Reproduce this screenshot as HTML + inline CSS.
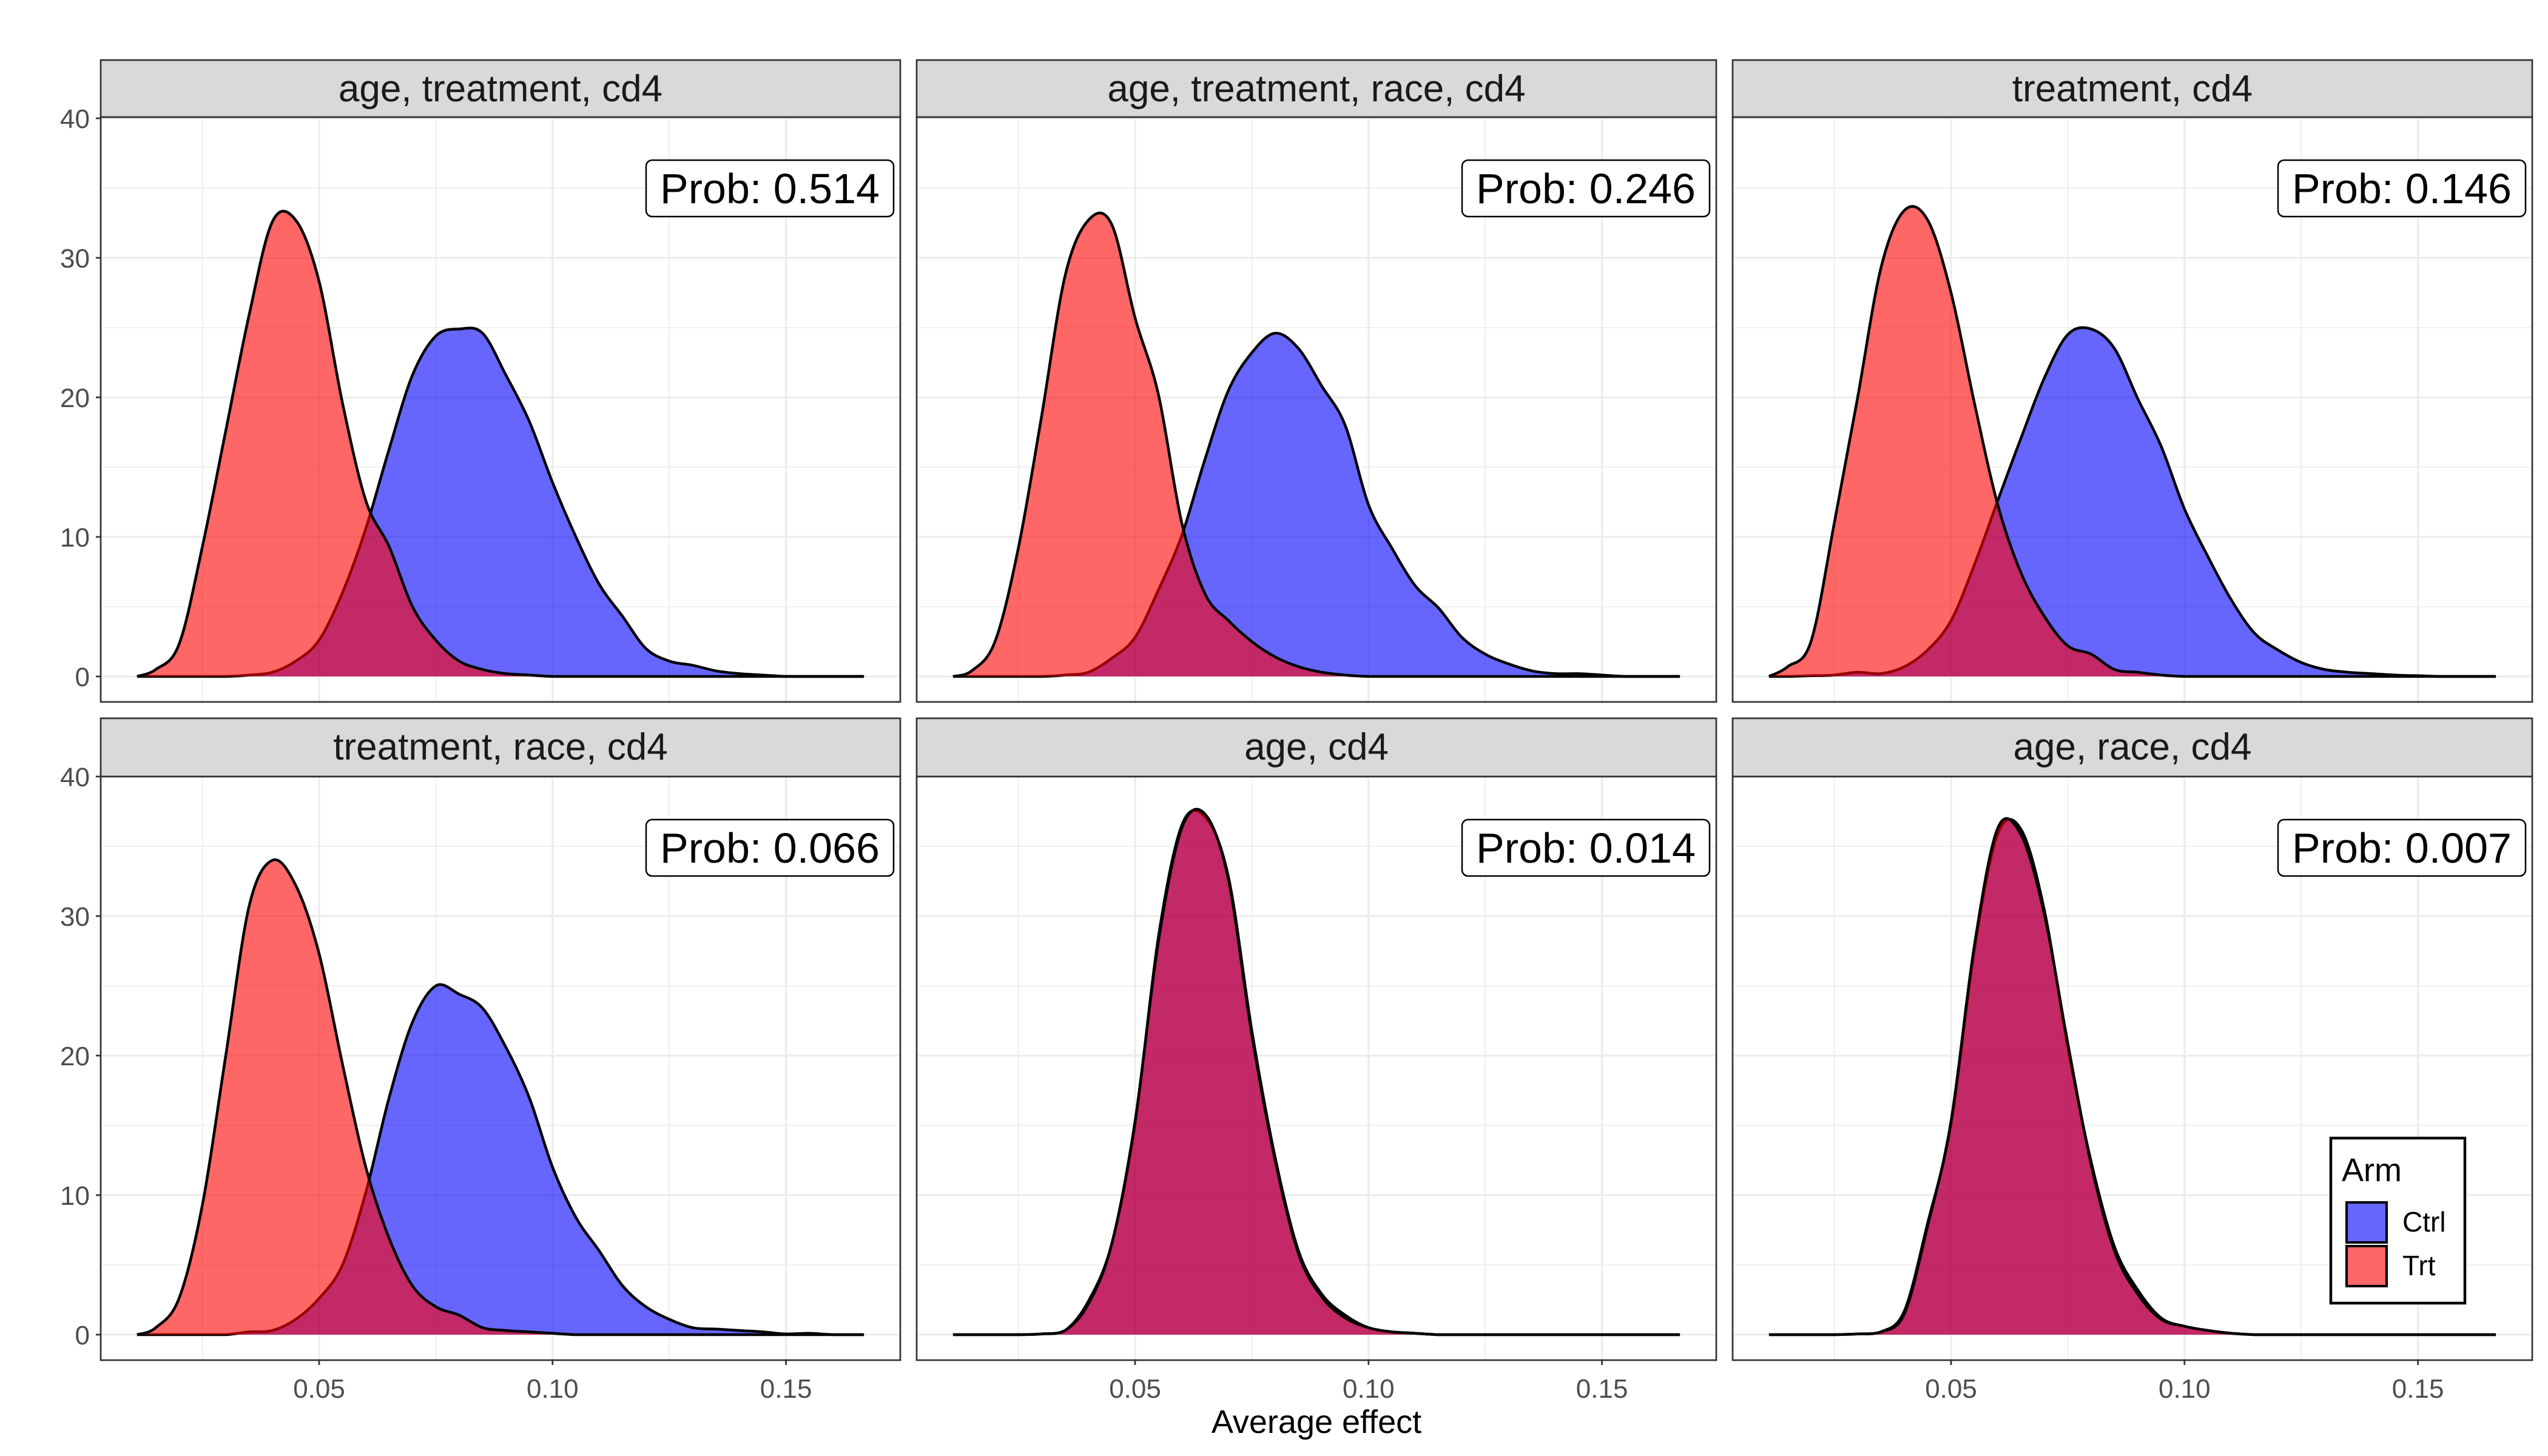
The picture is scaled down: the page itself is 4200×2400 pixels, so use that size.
<!DOCTYPE html>
<html><head><meta charset="utf-8"><style>
html,body{margin:0;padding:0;background:#fff;}
svg{display:block;font-family:"Liberation Sans",Arial,sans-serif;}
</style></head><body>
<svg id="chart" width="4200" height="2400" viewBox="0 0 4200 2400">
<rect width="4200" height="2400" fill="#fff"/>
</svg>
<script>
const xGrid = [0.011,0.015,0.020,0.025,0.030,0.035,0.040,0.045,0.050,0.055,0.060,0.065,0.070,0.075,0.080,0.085,0.090,0.095,0.100,0.105,0.110,0.115,0.120,0.125,0.130,0.135,0.140,0.145,0.150,0.155,0.160,0.1667];
const panelTitles = ["age, treatment, cd4","age, treatment, race, cd4","treatment, cd4","treatment, race, cd4","age, cd4","age, race, cd4"];
const probLabels = ["Prob: 0.514","Prob: 0.246","Prob: 0.146","Prob: 0.066","Prob: 0.014","Prob: 0.007"];
const ctrl1 = [0,0,0,0,0,0.1,0.3,1.1,2.6,6,10.6,16.3,21.6,24.4,24.9,24.6,21.6,18.3,13.9,10,6.6,4.3,2,1.1,0.8,0.4,0.2,0.1,0,0,0,0];
const trt1  = [0,0.5,2.3,9.3,17.6,25.9,32.6,32.7,28.3,19.6,12.6,9.3,5,2.6,1.1,0.5,0.2,0.1,0,0,0,0,0,0,0,0,0,0,0,0,0,0];
const ctrl2 = [0,0,0,0,0,0.1,0.3,1.3,2.8,6.2,10.1,15.6,20.5,23.2,24.6,23.5,20.8,18,12.3,9.2,6.5,4.9,2.8,1.6,0.9,0.4,0.2,0.2,0.1,0,0,0];
const trt2  = [0,0.4,2.5,9.2,18.7,28.7,32.7,32.4,25.7,20.2,11,5.9,4,2.5,1.4,0.7,0.3,0.1,0,0,0,0,0,0,0,0,0,0,0,0,0,0];
const ctrl3 = [0,0,0.05,0.1,0.3,0.2,0.7,1.9,4,8,12.6,17.1,21.4,24.5,24.9,23.5,19.9,16.5,12,8.6,5.5,3.1,1.9,1,0.5,0.3,0.2,0.1,0.05,0,0,0];
const trt3  = [0,0.7,2.5,11,20,29.3,33.4,32.7,27.5,19.6,12.3,7.4,4.3,2.2,1.6,0.5,0.3,0.1,0,0,0,0,0,0,0,0,0,0,0,0,0,0];
const ctrl4 = [0,0,0,0,0,0.2,0.3,1.1,2.6,5,10.2,17,22.4,25,24.4,23.4,20.6,17,12,8.4,6,3.5,2,1.1,0.5,0.4,0.3,0.2,0.05,0.1,0,0];
const trt4  = [0,0.5,2.6,9.3,20,30.7,34,32.2,27.3,19.4,12,6.9,3.5,2,1.4,0.5,0.3,0.2,0.1,0,0,0,0,0,0,0,0,0,0,0,0,0];
const ctrl5 = [0,0,0,0,0.05,0.3,2.4,6.5,15.1,28.5,36.5,37.1,32.8,21.8,12.7,6,2.9,1.4,0.5,0.2,0.1,0,0,0,0,0,0,0,0,0,0,0];
const trt5  = [0,0,0,0,0.05,0.3,2.2,6.5,15.3,28.2,36.3,37.3,32.6,21.5,12.5,5.8,2.7,1.2,0.5,0.2,0.1,0,0,0,0,0,0,0,0,0,0,0];
const ctrl6 = [0,0,0,0,0.05,0.2,1.7,8,15.1,27.6,35.9,36.2,30.4,20.6,12.4,6.3,3.2,1.2,0.6,0.3,0.1,0,0,0,0,0,0,0,0,0,0,0];
const trt6  = [0,0,0,0,0.05,0.2,1.5,7.8,15.3,27.9,36.3,35.8,30.1,20.9,12.2,6,2.9,1.1,0.6,0.3,0.1,0,0,0,0,0,0,0,0,0,0,0];
const yTicks = [0,10,20,30,40];
const yTickLabels = ["0","10","20","30","40"];
const xTicks = [0.05,0.10,0.15];
const xTickLabels = ["0.05","0.10","0.15"];
const ctrlSeries = [ctrl1,ctrl2,ctrl3,ctrl4,ctrl5,ctrl6];
const trtSeries = [trt1,trt2,trt3,trt4,trt5,trt6];

const NS = "http://www.w3.org/2000/svg";
const svg = document.getElementById("chart");
function mk(tag, attrs, parent){const e=document.createElementNS(NS,tag);for(const k in attrs)e.setAttribute(k,attrs[k]);(parent||svg).appendChild(e);return e;}
const colLeft=[166,1511,2856], PW=1318;
const rowStrip=[99,1184], rowTop=[193,1280], rowBot=[1157,2242];
function xs(left,v){return left+(v-0.00322)*7696;}
function ys(bot,v){return bot-42-v*23;}
function pathFor(left,bot,vals){
  const p=xGrid.map((x,i)=>[xs(left,x),ys(bot,vals[i])]);
  let d="M"+p[0][0].toFixed(1)+","+ys(bot,0).toFixed(1)+" L"+p[0][0].toFixed(1)+","+p[0][1].toFixed(1);
  for(let i=0;i<p.length-1;i++){
    const p0=p[Math.max(0,i-1)],p1=p[i],p2=p[i+1],p3=p[Math.min(p.length-1,i+2)];
    const c1=[p1[0]+(p2[0]-p0[0])/6,Math.min(ys(bot,0),p1[1]+(p2[1]-p0[1])/6)];
    const c2=[p2[0]-(p3[0]-p1[0])/6,Math.min(ys(bot,0),p2[1]-(p3[1]-p1[1])/6)];
    d+=" C"+c1[0].toFixed(1)+","+c1[1].toFixed(1)+" "+c2[0].toFixed(1)+","+c2[1].toFixed(1)+" "+p2[0].toFixed(1)+","+p2[1].toFixed(1);
  }
  return {d:d+" Z", line:d.replace(/^M[^L]*L/,"M")};
}
for(let k=0;k<6;k++){
  const r=Math.floor(k/3), c=k%3, left=colLeft[c], top=rowTop[r], bot=rowBot[r];
  const g=mk("g",{});
  
  
  [5,15,25,35].forEach(v=>mk("line",{x1:left,x2:left+PW,y1:ys(bot,v),y2:ys(bot,v),stroke:"#ebebeb","stroke-width":1.5},g));
  [0.025,0.075,0.125].forEach(v=>mk("line",{x1:xs(left,v),x2:xs(left,v),y1:top,y2:bot,stroke:"#ebebeb","stroke-width":1.5},g));
  yTicks.forEach(v=>mk("line",{x1:left,x2:left+PW,y1:ys(bot,v),y2:ys(bot,v),stroke:"#ebebeb","stroke-width":3},g));
  xTicks.forEach(v=>mk("line",{x1:xs(left,v),x2:xs(left,v),y1:top,y2:bot,stroke:"#ebebeb","stroke-width":3},g));
  const c1=pathFor(left,bot,ctrlSeries[k]);
  const a=mk("path",{d:c1.d,fill:"#0000ff","fill-opacity":0.6,stroke:"none"},g);
  
  
  mk("path",{d:c1.line,fill:"none",stroke:"#000","stroke-width":4.5},g);
  const t1=pathFor(left,bot,trtSeries[k]);
  const b=mk("path",{d:t1.d,fill:"#ff0000","fill-opacity":0.6,stroke:"none"},g);
  
  
  mk("path",{d:t1.line,fill:"none",stroke:"#000","stroke-width":4.5},g);
  mk("rect",{x:left,y:top,width:PW,height:bot-top,fill:"none",stroke:"#333","stroke-width":2.7},g);
  const s=mk("rect",{x:left,y:rowStrip[r],width:PW,height:top-rowStrip[r],fill:"#d9d9d9",stroke:"#333","stroke-width":2.7},g);
  
  
  const st=mk("text",{x:left+PW/2,y:rowStrip[r]+68,"text-anchor":"middle","font-size":62,fill:"#1a1a1a"},g);
  st.textContent=panelTitles[k];
  
  
  const bx=left+1307-408, by=top+71;
  const pb=mk("rect",{x:bx,y:by,width:408,height:93,rx:10,fill:"#fff",stroke:"#000","stroke-width":2.5},g);
  
  
  const pt=mk("text",{x:bx+204,y:by+71,"text-anchor":"middle","font-size":70,fill:"#000"},g);
  pt.textContent=probLabels[k];
  
  
  if(c===0){
    yTicks.forEach((v,i)=>{
      mk("line",{x1:left-8,x2:left,y1:ys(bot,v),y2:ys(bot,v),stroke:"#333","stroke-width":2.7},g);
      const t=mk("text",{x:left-18,y:ys(bot,v)+16,"text-anchor":"end","font-size":44,fill:"#4d4d4d"},g);
      t.textContent=yTickLabels[i];
      
      
    });
  }
  if(r===1){
    xTicks.forEach((v,i)=>{
      mk("line",{x1:xs(left,v),x2:xs(left,v),y1:bot,y2:bot+8,stroke:"#333","stroke-width":2.7},g);
      const t=mk("text",{x:xs(left,v),y:bot+62,"text-anchor":"middle","font-size":44,fill:"#4d4d4d"},g);
      t.textContent=xTickLabels[i];
      
      
    });
  }
}
</script>
<svg style="position:absolute;left:0;top:0" width="4200" height="2400">
<text x="2170" y="2362" text-anchor="middle" font-size="54" fill="#000" font-family="Liberation Sans, sans-serif">Average effect</text>
<g>
<rect x="3842" y="1876" width="221" height="272" fill="#fff" stroke="#000" stroke-width="4.5"/>
<text x="3860" y="1947" font-size="54" fill="#000" font-family="Liberation Sans, sans-serif">Arm</text>
<rect x="3868" y="1982" width="66" height="66" fill="#6666ff" stroke="#000" stroke-width="4"/>
<rect x="3868" y="2054" width="66" height="66" fill="#ff6666" stroke="#000" stroke-width="4"/>
<text x="3960" y="2030" font-size="46" fill="#000" font-family="Liberation Sans, sans-serif">Ctrl</text>
<text x="3960" y="2102" font-size="46" fill="#000" font-family="Liberation Sans, sans-serif">Trt</text>
</g>
</svg>
</body></html>
